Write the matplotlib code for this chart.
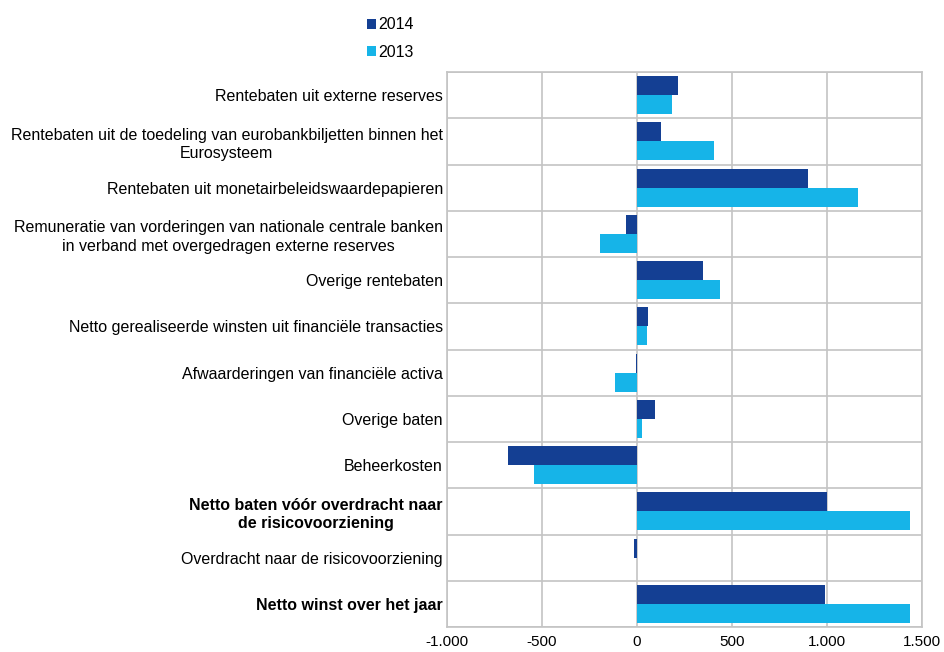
import matplotlib
matplotlib.use("Agg")
import matplotlib.pyplot as plt
import matplotlib.ticker as mticker
import numpy as np

plt.rcParams['font.family'] = ['Liberation Sans', 'DejaVu Sans']

categories = [
    "Rentebaten uit externe reserves",
    "Rentebaten uit de toedeling van eurobankbiljetten binnen het\nEurosysteem",
    "Rentebaten uit monetairbeleidswaardepapieren",
    "Remuneratie van vorderingen van nationale centrale banken\nin verband met overgedragen externe reserves",
    "Overige rentebaten",
    "Netto gerealiseerde winsten uit financiële transacties",
    "Afwaarderingen van financiële activa",
    "Overige baten",
    "Beheerkosten",
    "Netto baten vóór overdracht naar\nde risicovoorziening",
    "Overdracht naar de risicovoorziening",
    "Netto winst over het jaar",
]
bold_labels = {9, 11}
values_2014 = [216, 125, 902, -56, 347, 56, -7, 96, -679, 1002, -14, 988]
values_2013 = [186, 405, 1165, -193, 435, 51, -116, 25, -544, 1439, 0, 1439]
series_names = ["2014", "2013"]
xticks = [-1000, -500, 0, 500, 1000, 1500]

c2014 = "#143f93"
c2013 = "#16b4e8"
grid_c = "#c4c4c4"

fig = plt.figure(figsize=(9.44, 6.52), dpi=100)
ax = fig.add_axes([447/944, 1-627/652, (922-447)/944, (627-72)/652])

n = len(categories)
y = np.arange(n)
h = 0.41
ax.barh(y - h/2, values_2014, height=h, color=c2014, label=series_names[0], zorder=3)
ax.barh(y + h/2, values_2013, height=h, color=c2013, label=series_names[1], zorder=3)

ax.set_ylim(n - 0.5, -0.5)
ax.set_xlim(-1000, 1500)
ax.set_xticks(xticks)
ax.xaxis.set_major_formatter(mticker.FuncFormatter(lambda v, p: f"{int(v):,}".replace(",", ".")))
ax.set_yticks(y)
ax.set_yticklabels(categories)
ax.set_yticks(np.arange(n + 1) - 0.5, minor=True)
for i, lab in enumerate(ax.get_yticklabels()):
    lab.set_multialignment('center')
    lab.set_linespacing(1.3)
    if i in bold_labels:
        lab.set_fontweight('bold')

ax.tick_params(axis='y', which='both', length=0, labelsize=11.5, pad=3)
ax.tick_params(axis='x', length=0, labelsize=11, pad=6)
ax.grid(True, axis='x', which='major', color=grid_c, lw=1.2, zorder=0)
ax.grid(True, axis='y', which='minor', color=grid_c, lw=1.2, zorder=0)
ax.grid(False, axis='y', which='major')
for s in ax.spines.values():
    s.set_color(grid_c)
    s.set_linewidth(1.2)

fig.legend(loc='upper left', bbox_to_anchor=(361/944, 1-11/652), frameon=False,
           handlelength=0.55, handleheight=0.55, handletextpad=0.15, labelspacing=0.78,
           fontsize=11.5, borderaxespad=0)

fig.savefig("out.png", dpi=100)
